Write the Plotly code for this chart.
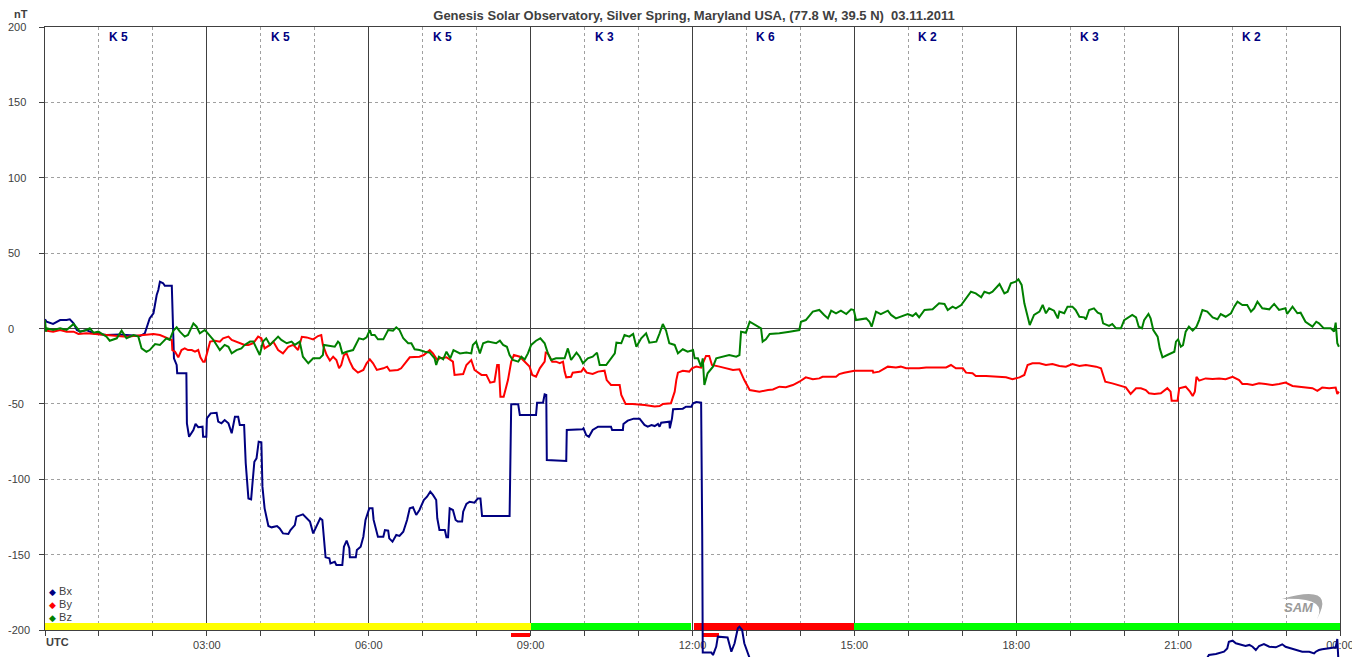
import plotly.graph_objects as go

# ---------------- data (hours UTC, nT) ----------------
BX = [(0.00,6.1),(0.03,4.5),(0.15,3.0),(0.28,5.6),(0.40,5.6),(0.46,6.1),(0.53,3.4),(0.59,-1.0),(0.65,-2.1),(0.77,-1.0),
      (0.90,-3.2),(1.02,-3.6),(1.14,-4.3),(1.39,-3.9),(1.51,-4.3),(1.76,-5.0),(1.85,-3.2),(1.88,0.1),(1.94,6.7),(2.01,10.1),
      (2.04,16.7),(2.07,22.2),(2.10,25.5),(2.13,31.1),(2.19,30.0),(2.22,28.4),(2.35,28.4),(2.36,16.7),(2.38,0.1),(2.39,-19.8),
      (2.44,-24.2),(2.45,-29.7),(2.62,-29.7),(2.63,-62.9),(2.67,-71.8),(2.75,-67.4),(2.79,-63.3),(2.84,-65.5),(2.92,-65.1),(2.93,-71.8),
      (2.99,-71.8),(3.00,-59.6),(3.07,-56.3),(3.18,-55.9),(3.21,-61.8),(3.27,-62.9),(3.33,-60.7),(3.40,-62.9),(3.46,-69.5),(3.52,-58.5),
      (3.58,-58.5),(3.61,-64.0),(3.69,-64.0),(3.72,-89.4),(3.77,-112.7),(3.82,-113.3),(3.84,-104.9),(3.88,-88.4),(3.92,-86.1),(3.96,-75.1),
      (4.01,-75.5),(4.03,-104.9),(4.07,-119.3),(4.14,-131.0),(4.20,-131.9),(4.30,-131.0),(4.35,-132.6),(4.41,-135.9),(4.51,-136.3),(4.55,-133.7),
      (4.63,-130.4),(4.66,-124.8),(4.78,-123.3),(4.85,-125.9),(4.91,-128.1),(4.97,-135.9),(5.03,-131.5),(5.10,-125.9),(5.14,-127.0),(5.17,-140.3),
      (5.20,-151.8),(5.27,-152.5),(5.29,-155.8),(5.37,-154.7),(5.40,-156.9),(5.51,-156.9),(5.54,-144.7),(5.59,-140.7),(5.64,-145.8),(5.65,-151.8),
      (5.76,-151.8),(5.78,-146.9),(5.85,-144.7),(5.90,-138.1),(5.94,-127.0),(6.01,-119.3),(6.07,-119.3),(6.09,-127.0),(6.14,-133.7),(6.17,-138.1),
      (6.27,-138.1),(6.30,-133.7),(6.36,-134.1),(6.38,-139.2),(6.44,-141.4),(6.51,-137.0),(6.57,-137.6),(6.64,-134.8),(6.71,-127.0),(6.76,-119.3),
      (6.82,-118.6),(6.88,-123.7),(6.94,-120.4),(7.02,-113.8),(7.08,-111.6),(7.14,-108.2),(7.19,-110.4),(7.25,-113.8),(7.27,-125.9),(7.31,-133.7),
      (7.41,-133.7),(7.44,-138.5),(7.47,-138.5),(7.50,-119.3),(7.56,-120.4),(7.61,-127.0),(7.65,-128.1),(7.73,-128.1),(7.75,-121.5),(7.81,-116.4),
      (7.87,-114.9),(7.96,-115.5),(8.02,-112.7),(8.07,-112.7),(8.10,-124.4),(8.61,-124.4),(8.62,-100.5),(8.64,-50.3),(8.77,-50.3),(8.80,-57.4),
      (9.10,-57.4),(9.12,-49.2),(9.23,-49.2),(9.26,-43.7),(9.29,-44.1),(9.30,-87.2),(9.66,-87.9),(9.67,-67.3),(9.96,-66.9),(9.98,-66.2),
      (10.03,-70.7),(10.08,-71.8),(10.15,-67.3),(10.25,-65.1),(10.49,-65.1),(10.51,-67.3),(10.71,-67.3),(10.72,-63.3),(10.80,-61.1),(10.91,-59.8),
      (11.02,-59.8),(11.11,-64.0),(11.17,-65.1),(11.24,-64.0),(11.30,-64.7),(11.36,-63.3),(11.39,-65.1),(11.42,-62.5),(11.57,-61.8),(11.58,-66.2),
      (11.62,-59.6),(11.64,-53.6),(11.82,-53.2),(11.88,-51.9),(11.98,-51.9),(12.01,-49.6),(12.07,-48.8),(12.16,-49.2),(12.18,-135.9),(12.19,-215.0),
      (12.35,-215.0),(12.38,-216.6),(12.44,-211.0),(12.47,-204.4),(12.65,-204.9),(12.72,-214.4),(12.78,-208.8),(12.84,-198.9),(12.87,-197.8),(12.92,-200.0),
      (12.96,-208.8),(13.02,-215.5),(13.06,-218.8),(13.20,-232.0),(14.00,-246.0),(15.00,-251.0),(16.50,-247.0),(18.00,-241.0),(19.50,-236.0),(21.00,-229.0),
      (21.50,-221.0),(21.57,-216.6),(21.70,-215.9),(21.85,-214.4),(21.91,-212.2),(21.94,-207.8),(22.01,-207.1),(22.07,-208.8),(22.13,-209.3),(22.25,-210.6),
      (22.32,-209.9),(22.38,-211.1),(22.44,-213.3),(22.50,-210.6),(22.59,-209.3),(22.69,-211.1),(22.81,-211.5),(22.87,-210.6),(22.93,-209.5),(22.99,-211.1),
      (23.09,-212.2),(23.18,-212.8),(23.30,-214.4),(23.43,-214.4),(23.52,-215.5),(23.55,-214.4),(23.61,-213.3),(23.67,-212.8),(23.80,-212.2),(23.92,-211.5),
      (23.95,-206.0),(23.97,-220.0),(24.00,-222.0)]

BY = [(0.00,-1.4),(0.15,-2.1),(0.28,-1.0),(0.40,-2.1),(0.53,-2.1),(0.62,-3.6),(0.77,-3.2),(0.90,-3.6),(1.14,-4.3),(1.33,-5.0),
      (1.51,-5.4),(1.64,-5.0),(1.88,-4.3),(2.01,-3.6),(2.13,-4.3),(2.19,-5.4),(2.28,-6.5),(2.35,-7.6),(2.36,-14.3),(2.41,-15.4),
      (2.47,-19.1),(2.53,-14.3),(2.59,-13.2),(2.65,-14.3),(2.72,-14.3),(2.78,-15.4),(2.84,-14.3),(2.88,-19.1),(2.93,-22.0),(2.96,-22.0),
      (2.99,-17.6),(3.06,-8.7),(3.15,-8.1),(3.24,-8.7),(3.30,-6.5),(3.40,-5.4),(3.46,-7.6),(3.55,-8.7),(3.61,-9.8),(3.70,-10.9),
      (3.77,-10.9),(3.86,-9.8),(3.95,-5.4),(4.01,-6.5),(4.07,-13.2),(4.17,-10.9),(4.23,-8.7),(4.32,-14.3),(4.41,-16.5),(4.51,-12.1),
      (4.60,-10.9),(4.69,-14.3),(4.76,-5.5),(4.85,-5.9),(4.97,-7.2),(5.06,-5.0),(5.12,-4.3),(5.15,-10.9),(5.22,-17.6),(5.28,-21.3),
      (5.34,-18.7),(5.40,-20.9),(5.45,-26.4),(5.49,-24.2),(5.54,-17.6),(5.59,-16.5),(5.65,-22.0),(5.71,-26.4),(5.80,-29.3),(5.90,-27.5),
      (5.96,-23.1),(6.02,-20.5),(6.08,-23.1),(6.15,-27.5),(6.27,-26.4),(6.34,-25.3),(6.39,-28.0),(6.54,-27.5),(6.60,-26.4),(6.70,-22.0),
      (6.76,-19.1),(6.94,-18.7),(7.02,-17.6),(7.13,-14.3),(7.19,-16.5),(7.27,-20.9),(7.31,-19.8),(7.44,-19.1),(7.56,-22.0),(7.59,-30.8),
      (7.75,-30.2),(7.81,-24.2),(7.90,-20.9),(7.96,-27.5),(8.09,-30.8),(8.18,-30.8),(8.25,-35.9),(8.33,-35.3),(8.38,-24.2),(8.41,-24.2),
      (8.44,-45.2),(8.50,-45.2),(8.58,-34.2),(8.64,-22.0),(8.69,-17.6),(8.80,-18.7),(8.89,-22.0),(8.98,-25.3),(9.03,-30.8),(9.10,-32.0),
      (9.17,-26.4),(9.26,-22.0),(9.28,-16.0),(9.32,-16.5),(9.40,-22.0),(9.47,-22.0),(9.54,-23.0),(9.60,-22.0),(9.63,-28.6),(9.66,-32.4),
      (9.75,-32.0),(9.78,-29.3),(9.94,-28.6),(9.98,-26.4),(10.04,-29.3),(10.15,-30.2),(10.25,-28.6),(10.37,-28.0),(10.41,-34.2),(10.49,-37.5),
      (10.65,-37.5),(10.68,-44.1),(10.76,-50.1),(10.89,-50.1),(11.11,-50.8),(11.20,-51.4),(11.30,-51.8),(11.39,-51.4),(11.45,-50.1),(11.60,-49.6),
      (11.67,-41.9),(11.70,-34.2),(11.73,-29.3),(11.82,-28.0),(11.94,-28.6),(11.99,-26.4),(12.07,-25.3),(12.16,-26.0),(12.25,-18.2),(12.31,-18.2),
      (12.36,-24.2),(12.50,-25.3),(12.62,-26.4),(12.75,-27.5),(12.87,-27.1),(12.96,-34.2),(13.06,-40.8),(13.18,-41.3),(13.24,-41.9),(13.40,-40.8),
      (13.49,-40.4),(13.61,-38.6),(13.73,-39.0),(13.86,-37.5),(13.98,-35.3),(14.10,-32.4),(14.23,-33.7),(14.35,-33.1),(14.41,-32.0),(14.66,-32.0),
      (14.72,-30.2),(14.81,-29.3),(14.94,-28.6),(15.00,-28.0),(15.34,-28.0),(15.35,-29.3),(15.46,-28.6),(15.56,-26.4),(15.62,-25.3),(15.77,-25.8),
      (15.86,-25.3),(15.96,-26.4),(16.08,-26.4),(16.20,-26.4),(16.33,-25.8),(16.48,-25.8),(16.57,-25.3),(16.70,-25.8),(16.79,-24.2),(16.88,-26.4),
      (17.01,-26.4),(17.07,-29.3),(17.19,-29.7),(17.25,-31.5),(17.44,-31.5),(17.69,-32.0),(17.81,-32.4),(17.93,-33.7),(18.06,-32.4),(18.15,-30.8),
      (18.21,-24.2),(18.30,-23.1),(18.43,-23.1),(18.55,-24.2),(18.67,-23.6),(18.80,-24.9),(18.92,-25.3),(19.04,-23.6),(19.17,-24.9),(19.29,-24.2),
      (19.48,-25.3),(19.57,-26.4),(19.65,-35.3),(19.78,-36.4),(19.91,-37.5),(20.03,-39.0),(20.12,-43.4),(20.22,-39.6),(20.31,-39.6),(20.40,-40.8),
      (20.46,-43.0),(20.56,-43.4),(20.68,-43.0),(20.80,-39.6),(20.86,-41.9),(20.88,-47.9),(20.99,-47.9),(21.02,-39.6),(21.14,-38.6),(21.22,-41.9),
      (21.27,-44.8),(21.31,-41.9),(21.34,-32.0),(21.39,-34.6),(21.51,-33.1),(21.64,-33.5),(21.76,-33.1),(21.88,-33.7),(22.01,-32.0),(22.13,-34.2),
      (22.19,-36.8),(22.28,-36.8),(22.38,-37.5),(22.50,-36.4),(22.62,-36.8),(22.75,-37.5),(22.87,-36.8),(22.99,-35.9),(23.12,-38.1),(23.30,-38.6),
      (23.49,-39.6),(23.58,-41.3),(23.67,-39.2),(23.80,-39.6),(23.92,-39.2),(23.95,-43.4),(23.98,-41.9)]

BZ = [(0.00,5.6),(0.02,-2.1),(0.03,0.1),(0.15,-1.0),(0.28,0.1),(0.40,-1.0),(0.53,3.0),(0.59,0.1),(0.65,-2.1),(0.77,-1.0),
      (0.83,0.1),(0.90,-2.8),(0.99,-2.1),(1.14,-5.4),(1.20,-8.1),(1.33,-6.5),(1.42,-1.4),(1.51,-6.5),(1.64,-4.3),(1.73,-5.4),
      (1.79,-13.2),(1.88,-15.4),(1.94,-14.3),(2.04,-10.3),(2.13,-10.9),(2.19,-8.7),(2.25,-6.5),(2.31,-7.6),(2.38,-1.4),(2.44,0.8),
      (2.50,-2.1),(2.59,-5.4),(2.65,-4.3),(2.75,3.4),(2.81,1.2),(2.87,-3.2),(2.96,-1.0),(2.99,-2.1),(3.06,-5.0),(3.12,-7.6),
      (3.18,-10.9),(3.24,-14.3),(3.33,-10.9),(3.40,-12.1),(3.46,-16.5),(3.55,-14.3),(3.64,-13.2),(3.70,-10.9),(3.80,-8.7),(3.86,-8.7),
      (3.92,-13.2),(3.98,-17.6),(4.04,-8.7),(4.10,-6.5),(4.17,-10.9),(4.23,-8.7),(4.32,-5.4),(4.38,-7.6),(4.48,-9.8),(4.57,-8.7),
      (4.63,-10.9),(4.72,-8.7),(4.78,-18.7),(4.88,-23.1),(4.97,-19.8),(5.09,-19.8),(5.15,-17.6),(5.17,-10.9),(5.28,-11.6),(5.37,-12.1),
      (5.43,-8.7),(5.46,-9.8),(5.51,-16.5),(5.59,-15.4),(5.71,-14.3),(5.77,-9.8),(5.82,-6.5),(5.90,-7.2),(5.96,-5.9),(6.02,-1.0),
      (6.05,-4.3),(6.11,-4.3),(6.17,-7.2),(6.27,-7.2),(6.36,-1.0),(6.45,-1.4),(6.51,0.8),(6.57,-1.0),(6.64,-6.5),(6.73,-9.8),
      (6.79,-9.8),(6.85,-13.8),(6.94,-14.3),(7.04,-15.4),(7.13,-16.0),(7.22,-19.8),(7.25,-24.2),(7.30,-18.7),(7.38,-20.5),(7.44,-15.4),
      (7.51,-19.8),(7.57,-14.3),(7.69,-16.5),(7.81,-16.0),(7.90,-16.5),(7.93,-10.9),(7.99,-8.7),(8.06,-16.5),(8.12,-9.8),(8.21,-8.7),
      (8.36,-9.8),(8.43,-8.1),(8.49,-10.9),(8.56,-12.1),(8.61,-17.6),(8.67,-20.9),(8.77,-22.0),(8.83,-18.7),(8.89,-20.5),(8.95,-16.5),
      (9.01,-10.9),(9.10,-8.1),(9.18,-6.5),(9.26,-9.8),(9.32,-16.5),(9.38,-20.9),(9.47,-19.8),(9.63,-19.8),(9.69,-13.2),(9.75,-20.9),
      (9.85,-16.0),(9.91,-18.7),(9.97,-23.1),(10.06,-19.8),(10.15,-18.7),(10.23,-16.0),(10.28,-24.2),(10.40,-24.2),(10.49,-19.8),(10.56,-16.5),
      (10.59,-9.4),(10.68,-9.8),(10.74,-4.3),(10.83,-5.4),(10.90,-3.6),(10.96,-12.1),(11.05,-6.5),(11.14,-3.2),(11.20,-9.4),(11.33,-8.7),
      (11.39,-3.2),(11.45,3.0),(11.51,-1.4),(11.57,-9.8),(11.67,-10.9),(11.73,-16.5),(11.82,-13.8),(11.91,-15.4),(12.01,-14.3),(12.04,-19.8),
      (12.10,-19.8),(12.16,-25.3),(12.19,-19.8),(12.22,-37.5),(12.28,-29.7),(12.38,-25.3),(12.44,-19.8),(12.56,-18.7),(12.68,-17.6),(12.81,-18.7),
      (12.87,-17.6),(12.90,-2.1),(12.99,-2.8),(13.06,4.5),(13.18,2.3),(13.27,0.1),(13.30,-8.7),(13.36,-7.2),(13.43,-3.6),(13.61,-3.2),
      (13.80,-2.1),(13.98,-1.0),(14.01,4.5),(14.10,5.6),(14.23,11.2),(14.35,12.3),(14.44,9.0),(14.51,6.7),(14.57,11.8),(14.66,10.1),
      (14.75,11.8),(14.85,9.6),(14.94,12.7),(14.99,12.3),(15.03,5.6),(15.12,6.1),(15.22,6.7),(15.28,4.5),(15.32,1.2),(15.40,11.2),
      (15.49,9.6),(15.62,11.8),(15.68,9.0),(15.77,6.7),(15.90,8.3),(15.99,9.6),(16.08,8.3),(16.14,10.1),(16.20,7.4),(16.30,12.3),
      (16.45,12.7),(16.57,16.7),(16.67,16.3),(16.73,12.3),(16.82,14.5),(16.88,13.4),(16.98,15.6),(17.07,20.0),(17.16,24.4),(17.25,23.3),
      (17.35,20.7),(17.41,24.4),(17.50,23.3),(17.56,24.4),(17.69,29.5),(17.78,23.3),(17.84,24.4),(17.90,30.0),(17.99,31.1),(18.04,32.6),
      (18.10,28.9),(18.15,16.7),(18.21,6.7),(18.25,2.3),(18.33,9.0),(18.43,11.2),(18.49,15.6),(18.55,10.1),(18.61,13.4),(18.70,11.8),
      (18.77,6.7),(18.80,11.2),(18.89,10.1),(18.95,14.5),(19.04,14.5),(19.10,12.3),(19.17,7.8),(19.26,7.4),(19.29,6.1),(19.35,12.3),
      (19.44,13.4),(19.51,10.5),(19.57,9.6),(19.61,3.4),(19.72,1.7),(19.78,3.0),(19.85,0.1),(19.94,0.1),(20.00,5.6),(20.09,7.8),
      (20.15,9.0),(20.22,7.4),(20.27,1.2),(20.33,0.1),(20.37,5.6),(20.45,9.6),(20.49,6.7),(20.54,-1.0),(20.62,-5.4),(20.66,-13.2),
      (20.71,-19.1),(20.80,-17.6),(20.93,-15.4),(20.96,-8.7),(21.00,-7.2),(21.05,-12.1),(21.09,-11.0),(21.14,-2.1),(21.20,1.2),(21.27,-1.4),
      (21.34,1.2),(21.39,5.6),(21.45,12.3),(21.54,11.2),(21.64,7.4),(21.73,6.1),(21.79,9.6),(21.88,7.8),(21.98,10.1),(22.04,14.5),
      (22.10,17.8),(22.19,15.6),(22.28,15.6),(22.35,11.2),(22.41,13.4),(22.47,17.8),(22.56,13.4),(22.69,12.7),(22.78,16.3),(22.87,12.3),
      (22.99,13.4),(23.02,9.6),(23.12,14.5),(23.21,10.1),(23.27,10.5),(23.36,4.5),(23.49,1.2),(23.56,4.5),(23.61,3.4),(23.70,0.1),
      (23.83,0.1),(23.89,-2.1),(23.92,3.9),(23.95,-9.8),(23.98,-12.1)]

SERIES_NAMES = ["Bx", "By", "Bz"]
SERIES_COLORS = ["#000080", "#FF0000", "#008000"]

K_START_HOURS = [0, 3, 6, 9, 12, 15, 18, 21]
K_LABELS = ["K 5", "K 5", "K 5", "K 3", "K 6", "K 2", "K 3", "K 2"]

BAND_START = [0.0, 9.0, 12.03, 15.0]
BAND_END = [9.0, 11.98, 15.0, 24.0]
BAND_COLORS = ["#FFFF00", "#00FF00", "#FF0000", "#00FF00"]

ALERT_START = [8.63, 12.18]
ALERT_END = [8.98, 12.49]

TICK_HOURS = [0, 3, 6, 9, 12, 15, 18, 21, 24]
TICK_TEXT = ["", "03:00", "06:00", "09:00", "12:00", "15:00", "18:00", "21:00", "00:00"]
Y_TICKS = [-200, -150, -100, -50, 0, 50, 100, 150, 200]

TITLE = "Genesis Solar Observatory, Silver Spring, Maryland USA, (77.8 W, 39.5 N)  03.11.2011"

# ---------------- geometry ----------------
# the page body has an 8px default margin, so the figure is drawn 8px in
OFF = 8
WIN_W, WIN_H = 1360, 657
W, H = WIN_W - OFF, WIN_H - OFF
PLOT_LEFT_PX, PLOT_RIGHT_PX, PLOT_TOP_PX = 45, 1340, 27
ML, MR, MT, MB = PLOT_LEFT_PX - OFF, WIN_W - PLOT_RIGHT_PX, PLOT_TOP_PX - OFF, 0
PLOT_W = W - ML - MR
PLOT_H = H - MT - MB
AXIS_BOTTOM_PX = 630           # screen row of the -200 line
Y_LO, Y_HI = -200, 200
frac = (WIN_H - AXIS_BOTTOM_PX) / PLOT_H
Y2_LO = Y_LO - (Y_HI - Y_LO) * frac / (1 - frac)

DARK = "#404040"
GRID = "#A0A0A0"
FONT = "Liberation Sans, Arial, sans-serif"


def paper_x(px):
    return (px - PLOT_LEFT_PX) / PLOT_W


def paper_y(py):
    return (WIN_H - py) / PLOT_H


fig = go.Figure()

# status band at bottom of plot
fig.add_trace(go.Bar(
    x=[(s + e) / 2 for s, e in zip(BAND_START, BAND_END)],
    y=[4.7] * len(BAND_START), base=Y_LO,
    width=[e - s for s, e in zip(BAND_START, BAND_END)],
    marker=dict(color=BAND_COLORS, line=dict(width=0)),
    xaxis="x", yaxis="y", showlegend=False, hoverinfo="skip"))

# small alert markers below the axis
fig.add_trace(go.Bar(
    x=[(s + e) / 2 for s, e in zip(ALERT_START, ALERT_END)],
    y=[3.0] * len(ALERT_START), base=-204.8,
    width=[e - s for s, e in zip(ALERT_START, ALERT_END)],
    marker=dict(color="#FF0000", line=dict(width=0)),
    xaxis="x2", yaxis="y2", showlegend=False, hoverinfo="skip"))

for name, data, color in zip(SERIES_NAMES, [BX, BY, BZ], SERIES_COLORS):
    fig.add_trace(go.Scatter(
        x=[p[0] for p in data], y=[p[1] for p in data], name=name,
        mode="lines", line=dict(color=color, width=2),
        xaxis="x2", yaxis="y2", showlegend=False))

annotations = []
annotations.append(dict(text="<b>nT</b>", xref="paper", yref="paper",
                        x=paper_x(21), y=paper_y(13.5),
                        xanchor="center", yanchor="middle", showarrow=False,
                        font=dict(family=FONT, size=11, color=DARK)))
annotations.append(dict(text="<b>UTC</b>", xref="paper", yref="paper",
                        x=paper_x(44), y=paper_y(642),
                        xanchor="left", yanchor="middle", showarrow=False,
                        font=dict(family=FONT, size=11, color=DARK)))
# left-aligned y tick labels, as in the original
for v in Y_TICKS:
    annotations.append(dict(text=str(v), xref="paper", yref="y",
                            x=paper_x(7), y=v, xanchor="left", yanchor="middle",
                            showarrow=False, borderpad=0,
                            font=dict(family=FONT, size=11, color=DARK)))
for s, lab in zip(K_START_HOURS, K_LABELS):
    annotations.append(dict(text="<b>%s</b>" % lab, xref="x", yref="paper",
                            x=s + 1.36, y=paper_y(37),
                            xanchor="center", yanchor="middle", showarrow=False,
                            font=dict(family=FONT, size=12, color="#000080")))
for i, (name, color) in enumerate(zip(SERIES_NAMES, SERIES_COLORS)):
    annotations.append(dict(
        text="<span style='color:%s;font-size:9px'>\u25C6</span> %s" % (color, name),
        xref="paper", yref="paper", x=paper_x(47),
        y=paper_y(591 + 13 * i), xanchor="left", yanchor="middle",
        showarrow=False, font=dict(family=FONT, size=11, color=DARK)))
# SAM logo text
annotations.append(dict(text="<b><i>SAM</i></b>", xref="paper", yref="paper",
                        x=paper_x(1299), y=paper_y(607),
                        xanchor="center", yanchor="middle", showarrow=False,
                        font=dict(family=FONT, size=13, color="#9A9A9A")))


def px_x(px):
    return (px - PLOT_LEFT_PX) / 54.0


def px_y(py):
    return (328.5 - py) / 1.5075


swoosh = "M %f,%f Q %f,%f %f,%f Q %f,%f %f,%f Z" % (
    px_x(1283), px_y(599), px_x(1338), px_y(583), px_x(1318), px_y(619),
    px_x(1330), px_y(597), px_x(1283), px_y(599))

fig.update_layout(
    width=W, height=H,
    margin=dict(l=ML, r=MR, t=MT, b=MB, pad=0, autoexpand=False),
    paper_bgcolor="white", plot_bgcolor="rgba(0,0,0,0)",
    showlegend=False, bargap=0,
    font=dict(family=FONT, size=11, color=DARK),
    title=dict(text="<b>%s</b>" % TITLE, x=(694 - OFF) / W, xanchor="center",
               y=1 - (15 - OFF) / H, yanchor="middle", automargin=False,
               font=dict(family=FONT, size=13, color=DARK)),
    xaxis=dict(domain=[0, 1], range=[0, 24], anchor="y", automargin=False,
               tickmode="array", tickvals=TICK_HOURS, ticktext=TICK_TEXT,
               ticks="outside", ticklen=5, tickcolor=DARK, tickwidth=1,
               showgrid=True, gridcolor=DARK, gridwidth=1,
               showline=True, linecolor=DARK, linewidth=1, mirror=True,
               zeroline=False, tickfont=dict(family=FONT, size=11, color=DARK),
               minor=dict(tickmode="linear", tick0=0, dtick=1, ticks="outside",
                          ticklen=5, tickcolor=DARK, showgrid=True,
                          gridcolor=GRID, gridwidth=1, griddash="3px,3px")),
    yaxis=dict(domain=[frac, 1], range=[Y_LO, Y_HI], anchor="x", automargin=False,
               tickmode="array", tickvals=Y_TICKS, showticklabels=False,
               ticks="outside", ticklen=5, tickcolor=DARK,
               showgrid=True, gridcolor=GRID, gridwidth=1, griddash="3px,3px",
               zeroline=True, zerolinecolor=DARK, zerolinewidth=1,
               showline=True, linecolor=DARK, linewidth=1, mirror=True),
    xaxis2=dict(domain=[0, 1], range=[0, 24], anchor="y2", visible=False,
                showgrid=False, zeroline=False, automargin=False),
    yaxis2=dict(domain=[0, 1], range=[Y2_LO, Y_HI], anchor="x2", visible=False,
                showgrid=False, zeroline=False, automargin=False),
    annotations=annotations,
    shapes=[dict(type="path", path=swoosh, xref="x", yref="y",
                 fillcolor="#A8A8A8", line=dict(width=0), layer="above")],
)

fig.write_html("out.html")
